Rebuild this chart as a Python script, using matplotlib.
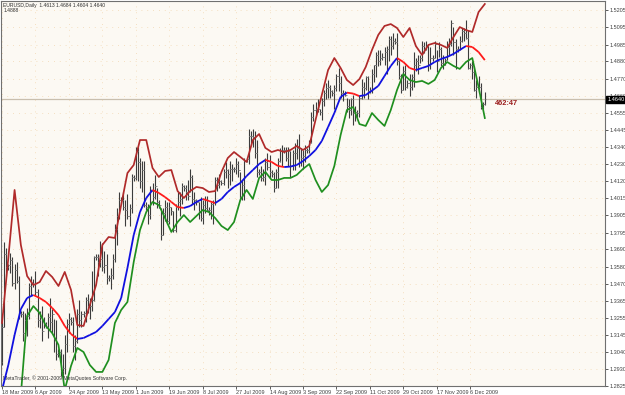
import matplotlib.pyplot as plt
import matplotlib.transforms as mtransforms
from matplotlib.collections import LineCollection
import numpy as np

plt.rcParams['font.family'] = ['Liberation Sans', 'DejaVu Sans']

# daily EURUSD bars, 18 Mar 2009 .. 14 Dec 2009 (MetaTrader, Sunday bars included)
highs = [
    1.3230, 1.3738, 1.3700,
    1.3600, 1.3670, 1.3640, 1.3600, 1.3610, 1.3520,
    1.3300, 1.3300, 1.3290, 1.3320, 1.3480, 1.3520,
    1.3500, 1.3550, 1.3440, 1.3300, 1.3330, 1.3260,
    1.3230, 1.3290, 1.3380, 1.3310, 1.3250, 1.3240,
    1.3060, 1.3060, 1.3030, 1.3150, 1.3250, 1.3290,
    1.3260, 1.3260, 1.3150, 1.3310, 1.3370, 1.3300,
    1.3300, 1.3390, 1.3410, 1.3380, 1.3550, 1.3650,
    1.3660, 1.3660, 1.3740, 1.3730, 1.3680, 1.3660,
    1.3530, 1.3570, 1.3660, 1.3850, 1.3950, 1.4050,
    1.4020, 1.4050, 1.4000, 1.4040, 1.3980, 1.4170,
    1.4160, 1.4340, 1.4340, 1.4270, 1.4250, 1.4250,
    1.3990, 1.3980, 1.4090, 1.4110, 1.4160, 1.4080,
    1.4000, 1.3950, 1.3950, 1.4000, 1.3990, 1.3990,
    1.3960, 1.3930, 1.3980, 1.4050, 1.4050, 1.4110,
    1.4100, 1.4100, 1.4130, 1.4200, 1.4160, 1.4050,
    1.4010, 1.3990, 1.4020, 1.4000, 1.4030, 1.4030,
    1.3960, 1.3990, 1.4000, 1.4150, 1.4150, 1.4170,
    1.4130, 1.4200, 1.4240, 1.4200, 1.4250, 1.4230,
    1.4210, 1.4270, 1.4250, 1.4180, 1.4130, 1.4270,
    1.4270, 1.4450, 1.4440, 1.4450, 1.4440, 1.4380,
    1.4200, 1.4220, 1.4200, 1.4270, 1.4300, 1.4290,
    1.4190, 1.4180, 1.4200, 1.4270, 1.4330, 1.4350,
    1.4340, 1.4340, 1.4340, 1.4310, 1.4320, 1.4360,
    1.4390, 1.4420, 1.4330, 1.4320, 1.4350,
    1.4330, 1.4380, 1.4560, 1.4610, 1.4620, 1.4640,
    1.4580, 1.4650, 1.4700, 1.4740, 1.4760, 1.4730,
    1.4700, 1.4730, 1.4800, 1.4840, 1.4790, 1.4700,
    1.4690, 1.4650, 1.4640, 1.4650, 1.4670, 1.4600,
    1.4570, 1.4670, 1.4770, 1.4750, 1.4790, 1.4790,
    1.4720, 1.4830, 1.4860, 1.4940, 1.4950, 1.4950,
    1.4930, 1.4970, 1.4980, 1.5040, 1.5040, 1.5060,
    1.5030, 1.5060, 1.4890, 1.4800, 1.4850, 1.4860,
    1.4760, 1.4800, 1.4800, 1.4940, 1.4900, 1.4920,
    1.4920, 1.5010, 1.5000, 1.5010, 1.4990, 1.4970,
    1.4920, 1.5010, 1.4950, 1.5000, 1.4970, 1.4920,
    1.4900, 1.5010, 1.5030, 1.5140, 1.5100, 1.5020,
    1.4980, 1.5040, 1.5090, 1.5090, 1.5140, 1.5080,
    1.4870, 1.4880, 1.4850, 1.4760, 1.4790, 1.4740,
    1.4620, 1.4684,
]
lows = [
    1.2960, 1.3200, 1.3520,
    1.3560, 1.3540, 1.3460, 1.3440, 1.3480, 1.3250,
    1.3260, 1.3110, 1.3130, 1.3140, 1.3250, 1.3400,
    1.3450, 1.3400, 1.3200, 1.3190, 1.3110, 1.3190,
    1.3190, 1.3130, 1.3180, 1.3160, 1.3040, 1.2990,
    1.3010, 1.2890, 1.2885, 1.2900, 1.3040, 1.3160,
    1.3210, 1.3040, 1.2990, 1.3100, 1.3200, 1.3200,
    1.3260, 1.3230, 1.3290, 1.3250, 1.3300, 1.3360,
    1.3620, 1.3520, 1.3580, 1.3550, 1.3540, 1.3470,
    1.3490, 1.3440, 1.3500, 1.3610, 1.3720, 1.3880,
    1.3980, 1.3940, 1.3840, 1.3880, 1.3840, 1.3920,
    1.4120, 1.4130, 1.4120, 1.4080, 1.4050, 1.3960,
    1.3940, 1.3850, 1.3880, 1.3970, 1.4010, 1.3950,
    1.3950, 1.3750, 1.3780, 1.3870, 1.3850, 1.3850,
    1.3910, 1.3800, 1.3800, 1.3940, 1.3900, 1.3980,
    1.4060, 1.4000, 1.4000, 1.4050, 1.3980, 1.3940,
    1.3970, 1.3880, 1.3870, 1.3850, 1.3920, 1.3930,
    1.3910, 1.3880, 1.3850, 1.3970, 1.4060, 1.4080,
    1.4100, 1.4100, 1.4140, 1.4080, 1.4100, 1.4120,
    1.4180, 1.4170, 1.4150, 1.4000, 1.4000, 1.4000,
    1.4240, 1.4230, 1.4360, 1.4340, 1.4270, 1.4150,
    1.4160, 1.4120, 1.4120, 1.4100, 1.4190, 1.4140,
    1.4150, 1.4050, 1.4080, 1.4080, 1.4240, 1.4220,
    1.4300, 1.4250, 1.4220, 1.4150, 1.4190, 1.4190,
    1.4260, 1.4210, 1.4220, 1.4200, 1.4240,
    1.4300, 1.4300, 1.4360, 1.4500, 1.4540, 1.4560,
    1.4540, 1.4510, 1.4600, 1.4640, 1.4650, 1.4650,
    1.4660, 1.4580, 1.4690, 1.4690, 1.4650, 1.4630,
    1.4660, 1.4560, 1.4520, 1.4540, 1.4480, 1.4500,
    1.4530, 1.4530, 1.4640, 1.4650, 1.4700, 1.4640,
    1.4680, 1.4680, 1.4750, 1.4780, 1.4850, 1.4860,
    1.4890, 1.4860, 1.4800, 1.4880, 1.4920, 1.4960,
    1.4990, 1.4860, 1.4770, 1.4680, 1.4700, 1.4700,
    1.4710, 1.4660, 1.4700, 1.4720, 1.4820, 1.4800,
    1.4870, 1.4880, 1.4930, 1.4950, 1.4820, 1.4830,
    1.4880, 1.4900, 1.4810, 1.4910, 1.4850, 1.4830,
    1.4860, 1.4890, 1.4920, 1.4980, 1.4920, 1.4830,
    1.4940, 1.4950, 1.5000, 1.5010, 1.5020, 1.4830,
    1.4830, 1.4770, 1.4690, 1.4650, 1.4680, 1.4580,
    1.4580, 1.4604,
]
closes = [
    1.3200, 1.3660, 1.3580,
    1.3590, 1.3620, 1.3480, 1.3560, 1.3490, 1.3290,
    1.3280, 1.3160, 1.3240, 1.3270, 1.3460, 1.3480,
    1.3470, 1.3420, 1.3240, 1.3260, 1.3170, 1.3220,
    1.3200, 1.3260, 1.3230, 1.3280, 1.3120, 1.3030,
    1.3040, 1.2920, 1.2940, 1.3090, 1.3220, 1.3250,
    1.3230, 1.3080, 1.3110, 1.3280, 1.3240, 1.3280,
    1.3290, 1.3370, 1.3330, 1.3330, 1.3370, 1.3640,
    1.3640, 1.3610, 1.3630, 1.3580, 1.3590, 1.3510,
    1.3510, 1.3530, 1.3630, 1.3820, 1.3900, 1.4000,
    1.4000, 1.3960, 1.3940, 1.3900, 1.3950, 1.4150,
    1.4140, 1.4310, 1.4240, 1.4120, 1.4190, 1.3970,
    1.3960, 1.3910, 1.4060, 1.4020, 1.4090, 1.3990,
    1.3970, 1.3780, 1.3920, 1.3960, 1.3870, 1.3960,
    1.3930, 1.3810, 1.3960, 1.3990, 1.4010, 1.4090,
    1.4080, 1.4050, 1.4030, 1.4150, 1.4010, 1.4000,
    1.3990, 1.3930, 1.3890, 1.3970, 1.3950, 1.3940,
    1.3940, 1.3980, 1.3990, 1.4130, 1.4100, 1.4120,
    1.4110, 1.4180, 1.4190, 1.4170, 1.4200, 1.4200,
    1.4200, 1.4230, 1.4190, 1.4020, 1.4100, 1.4250,
    1.4260, 1.4410, 1.4410, 1.4400, 1.4300, 1.4180,
    1.4180, 1.4140, 1.4150, 1.4240, 1.4210, 1.4180,
    1.4170, 1.4080, 1.4180, 1.4250, 1.4310, 1.4320,
    1.4320, 1.4270, 1.4310, 1.4220, 1.4300, 1.4300,
    1.4330, 1.4240, 1.4270, 1.4280, 1.4320,
    1.4320, 1.4370, 1.4530, 1.4570, 1.4580, 1.4580,
    1.4560, 1.4630, 1.4680, 1.4710, 1.4720, 1.4690,
    1.4680, 1.4710, 1.4790, 1.4740, 1.4680, 1.4680,
    1.4670, 1.4600, 1.4570, 1.4640, 1.4550, 1.4560,
    1.4550, 1.4650, 1.4720, 1.4710, 1.4780, 1.4690,
    1.4700, 1.4800, 1.4860, 1.4920, 1.4880, 1.4900,
    1.4910, 1.4940, 1.4960, 1.5020, 1.4980, 1.5010,
    1.5000, 1.4880, 1.4790, 1.4700, 1.4820, 1.4720,
    1.4740, 1.4720, 1.4780, 1.4860, 1.4880, 1.4860,
    1.4900, 1.4980, 1.4960, 1.4980, 1.4860, 1.4900,
    1.4900, 1.4990, 1.4880, 1.4960, 1.4870, 1.4860,
    1.4890, 1.4970, 1.4990, 1.5120, 1.5000, 1.4960,
    1.4960, 1.5010, 1.5070, 1.5060, 1.5030, 1.4840,
    1.4860, 1.4810, 1.4700, 1.4720, 1.4720, 1.4590,
    1.4610, 1.4640,
]
first_open = 1.2980
last_ohlc = [1.4613, 1.4684, 1.4604, 1.4640]
indicator_value = "1.4888"
timer_text = "462:47"

# indicator lines, read every 3rd bar
band_idx = list(range(0, 232, 3))
upper = [
    1.3224, 1.3635, 1.4066, 1.3718, 1.3521, 1.3464, 1.3483, 1.3553, 1.3515, 1.3458,
    1.3547, 1.3433, 1.3211, 1.3205, 1.3338, 1.3464, 1.3718, 1.3768, 1.3762, 1.3971,
    1.4173, 1.4224, 1.4382, 1.4382, 1.4205, 1.4148, 1.4186, 1.4192, 1.4059, 1.4015,
    1.4059, 1.4085, 1.4078, 1.4053, 1.4059, 1.4180, 1.4268, 1.4306, 1.4275, 1.4243,
    1.4382, 1.4420, 1.4332, 1.4306, 1.4319, 1.4306, 1.4319, 1.4344, 1.4319, 1.4344,
    1.4509, 1.4667, 1.4825, 1.4901, 1.4838, 1.4762, 1.4730, 1.4768, 1.4844, 1.4952,
    1.5047, 1.5104, 1.5116, 1.5091, 1.5034, 1.5091, 1.4977, 1.4920, 1.4984, 1.4996,
    1.4984, 1.4965, 1.5034, 1.5097, 1.5078, 1.5066, 1.5192, 1.5243,
]
middle = [
    1.2800, 1.2958, 1.3148, 1.3312, 1.3382, 1.3401, 1.3382, 1.3357, 1.3319, 1.3274,
    1.3205, 1.3154, 1.3123, 1.3129, 1.3148, 1.3167, 1.3205, 1.3249, 1.3293, 1.3382,
    1.3572, 1.3781, 1.3926, 1.4015, 1.4066, 1.4047, 1.4021, 1.3990, 1.3958, 1.3952,
    1.3964, 1.3990, 1.4009, 1.3996, 1.3983, 1.4009, 1.4053, 1.4085, 1.4110, 1.4154,
    1.4192, 1.4230, 1.4256, 1.4243, 1.4218, 1.4211, 1.4214, 1.4224, 1.4249, 1.4281,
    1.4319, 1.4376, 1.4464, 1.4553, 1.4655, 1.4682, 1.4676, 1.4660, 1.4667, 1.4695,
    1.4724, 1.4787, 1.4851, 1.4901, 1.4876, 1.4838, 1.4825, 1.4838, 1.4851, 1.4876,
    1.4895, 1.4908, 1.4927, 1.4952, 1.4977, 1.4971, 1.4939, 1.4888,
]
lower = [
    1.2500, 1.2550, 1.2650, 1.2768, 1.3268, 1.3331, 1.3287, 1.3205, 1.3160, 1.3085,
    1.2800, 1.2952, 1.3066, 1.3040, 1.2958, 1.2914, 1.2914, 1.2990, 1.3224, 1.3306,
    1.3357, 1.3610, 1.3812, 1.3926, 1.3990, 1.3971, 1.3888, 1.3800, 1.3863, 1.3907,
    1.3863, 1.3901, 1.3939, 1.3926, 1.3888, 1.3838, 1.3812, 1.3863, 1.4002, 1.4066,
    1.4009, 1.4142, 1.4180, 1.4129, 1.4129, 1.4142, 1.4142, 1.4161, 1.4199, 1.4230,
    1.4129, 1.4053, 1.4097, 1.4218, 1.4414, 1.4572, 1.4591, 1.4483, 1.4471, 1.4553,
    1.4509, 1.4471, 1.4572, 1.4699, 1.4800, 1.4762, 1.4749, 1.4756, 1.4737, 1.4762,
    1.4838, 1.4876, 1.4851, 1.4832, 1.4876, 1.4901, 1.4718, 1.4521,
]

# axis labels
date_idx = list(range(0, 225, 16))
date_labels = ["18 Mar 2009", "6 Apr 2009", "24 Apr 2009", "13 May 2009", "1 Jun 2009",
               "19 Jun 2009", "8 Jul 2009", "27 Jul 2009", "14 Aug 2009", "3 Sep 2009",
               "22 Sep 2009", "11 Oct 2009", "29 Oct 2009", "17 Nov 2009", "6 Dec 2009"]
price_ticks = [1.5205, 1.5095, 1.4985, 1.4880, 1.4770, 1.4660, 1.4555, 1.4445, 1.4340,
               1.4230, 1.4120, 1.4015, 1.3905, 1.3795, 1.3690, 1.3580, 1.3470, 1.3365,
               1.3255, 1.3145, 1.3040, 1.2930, 1.2825]


def main():
    n = len(closes)
    x = np.arange(n)
    opens = [first_open] + closes[:-1]
    opens[-1] = last_ohlc[0]

    fig = plt.figure(figsize=(6.25, 3.95), dpi=100)
    fig.patch.set_facecolor("white")
    ax = fig.add_axes([1 / 625, 9 / 395, 604 / 625, 385 / 395])
    ax.set_facecolor("#fcf9f3")

    # dotted grid
    for p in price_ticks:
        ax.axhline(p, color="#f2d6b0", lw=0.6, ls=(0, (1, 6)), zorder=0)
    for d in date_idx:
        ax.axvline(d, color="#f2d6b0", lw=0.6, ls=(0, (1, 6)), zorder=0)

    # bars
    ax.vlines(x, lows, highs, color="#3c3c3c", lw=0.8, zorder=2)
    ax.hlines(opens, x - 0.8, x, color="#808080", lw=0.6, zorder=2)
    ax.hlines(closes, x, x + 0.8, color="#808080", lw=0.6, zorder=2)

    # bands
    ax.plot(band_idx, upper, color="#b02a2a", lw=1.25, zorder=3)
    ax.plot(band_idx, lower, color="#1f8f1f", lw=1.25, zorder=3)

    # middle line: blue while rising, red while falling
    pts = np.column_stack([band_idx, middle])
    segs = np.stack([pts[:-1], pts[1:]], axis=1)
    cols = ["#1010e0" if middle[i + 1] >= middle[i] else "#ff1a1a" for i in range(len(middle) - 1)]
    ax.add_collection(LineCollection(segs, colors=cols, lw=1.3, zorder=4))

    # current price line
    ax.axhline(last_ohlc[3], color="#c9bfae", lw=0.9, zorder=1)

    ax.set_xlim(-0.5, 288.5)
    ax.set_ylim(1.2825, 1.5262)

    ax.yaxis.tick_right()
    ax.set_yticks(price_ticks)
    ax.set_yticklabels([f"{p:.4f}" for p in price_ticks])
    ax.set_xticks(date_idx)
    ax.set_xticklabels(date_labels, ha="left")
    ax.tick_params(axis="both", labelsize=4.0, colors="#404040", length=2, width=0.6, pad=1)
    for s in ax.spines.values():
        s.set_color("#707070")
        s.set_linewidth(0.8)

    tr = mtransforms.blended_transform_factory(ax.transAxes, ax.transData)
    ax.text(1.0035, last_ohlc[3], f"{last_ohlc[3]:.4f}", transform=tr, fontsize=4.0,
            color="white", va="center", ha="left",
            bbox=dict(facecolor="black", edgecolor="black", pad=0.6), zorder=6, clip_on=False)

    ax.text(236, 1.4616, timer_text, fontsize=5.3, color="#9a1c1c", fontweight="bold",
            va="center", ha="left", zorder=5)

    ax.text(0.004, 0.996, "EURUSD,Daily  " + " ".join(f"{v:.4f}" for v in last_ohlc)
            + "\n" + indicator_value, transform=ax.transAxes, fontsize=3.6,
            color="#303030", va="top", ha="left", linespacing=1.1)
    ax.text(0.004, 0.012, "MetaTrader, \u00a9 2001-2009 MetaQuotes Software Corp.",
            transform=ax.transAxes, fontsize=3.7, color="#303030", va="bottom", ha="left")

    plt.savefig("out.png", dpi=100, facecolor="white")


if __name__ == "__main__":
    main()
